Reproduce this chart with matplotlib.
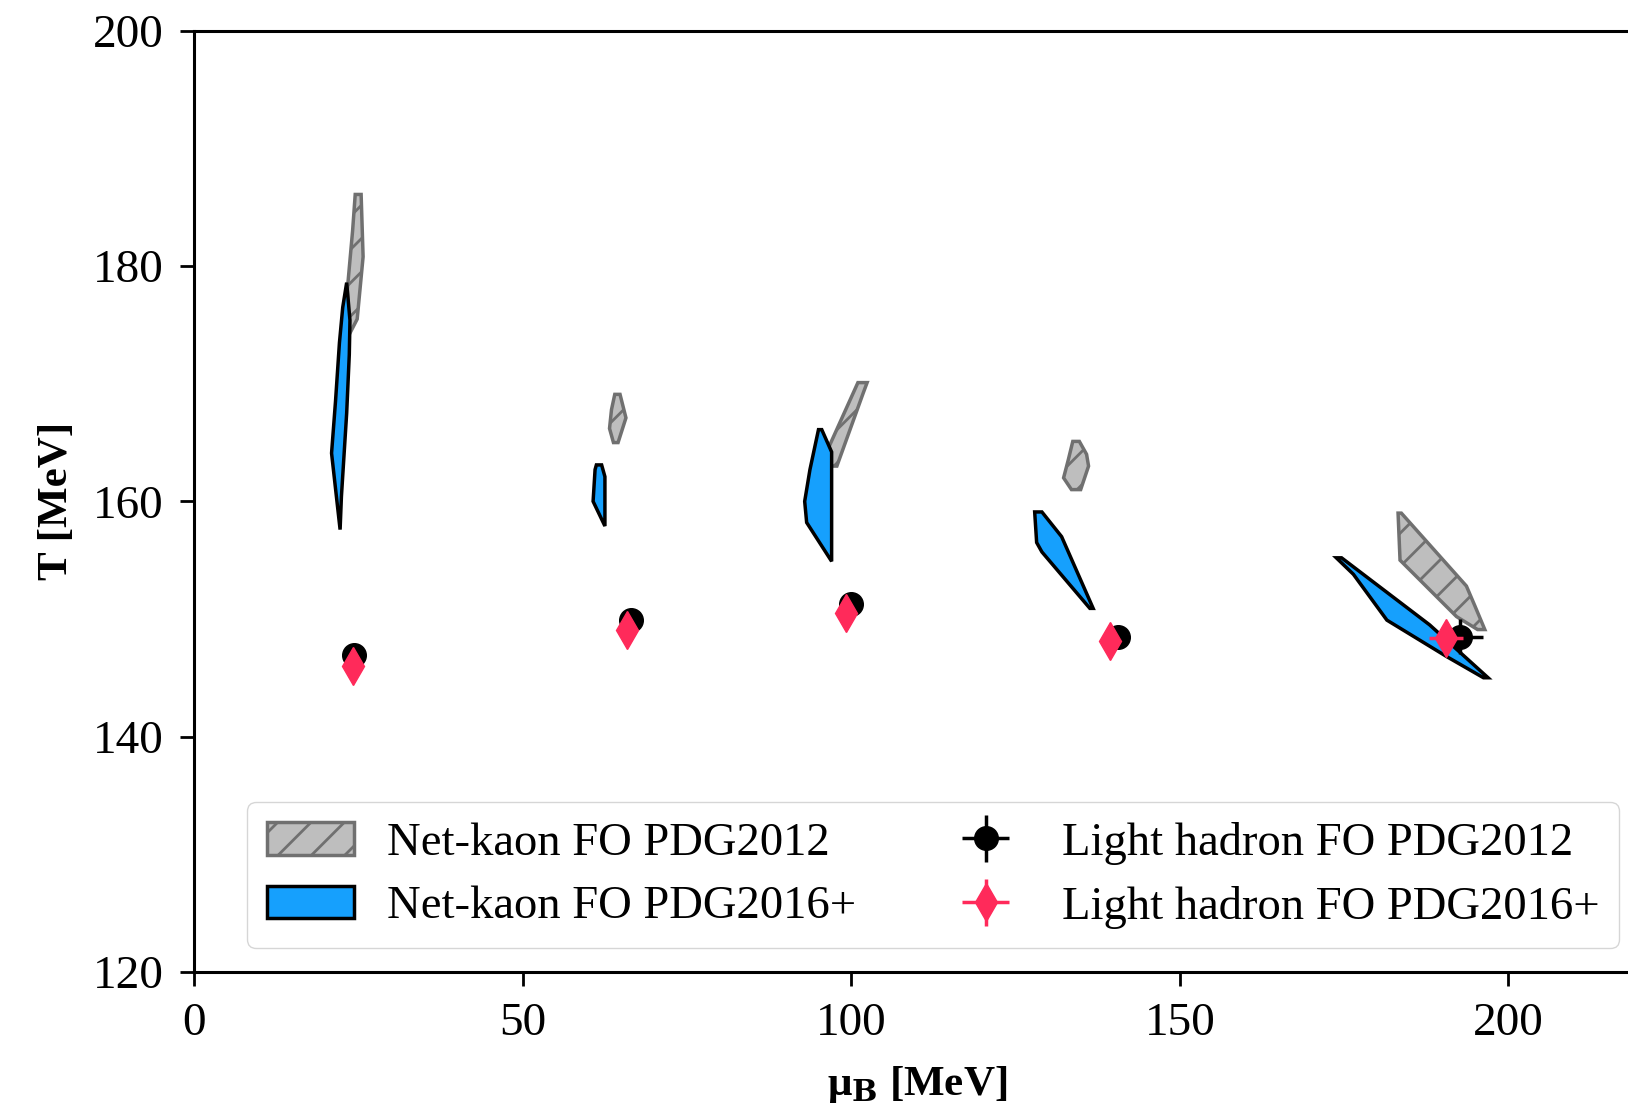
import matplotlib
matplotlib.use('Agg')
import matplotlib.pyplot as plt
from matplotlib.patches import Polygon, Patch

plt.rcParams['font.family'] = ['Liberation Serif', 'DejaVu Serif']
plt.rcParams['mathtext.fontset'] = 'dejavuserif'
plt.rcParams['hatch.linewidth'] = 2.0

# net-kaon freeze-out contours (mu_B, T) in MeV
nk2012 = [
    [(24.5, 186.1), (25.4, 186.1), (25.7, 180.8), (24.8, 175.5), (23.6, 174.2), (23.3, 178.0), (24.1, 183.0)],
    [(64.0, 169.1), (64.8, 169.1), (65.7, 167.1), (64.5, 165.0), (63.8, 165.0), (63.2, 166.2), (63.5, 167.8)],
    [(101.0, 170.1), (102.4, 170.1), (101.8, 169.2), (97.8, 163.0), (96.8, 163.0), (96.4, 164.4)],
    [(133.7, 165.1), (134.7, 165.1), (135.8, 164.0), (136.1, 163.0), (134.9, 161.0), (133.5, 161.0), (132.3, 162.0), (133.0, 163.5)],
    [(183.2, 159.0), (183.7, 159.0), (193.6, 152.8), (194.9, 151.1), (196.4, 149.1), (195.3, 149.1), (192.1, 150.2), (183.5, 155.0)],
]
nk2016 = [
    [(23.2, 178.6), (23.7, 175.4), (23.6, 172.5), (23.2, 167.5), (22.4, 160.4), (22.2, 157.6),
     (20.9, 164.1), (21.5, 168.5), (22.1, 173.5), (22.6, 176.5)],
    [(61.2, 163.1), (62.0, 163.1), (62.5, 162.1), (62.5, 157.9), (60.7, 160.0), (61.0, 162.7)],
    [(95.0, 166.1), (95.5, 166.1), (97.0, 164.2), (97.0, 154.9), (93.2, 158.2), (92.9, 160.0), (93.7, 162.7)],
    [(127.9, 159.1), (129.0, 159.1), (132.0, 157.0), (136.8, 150.9), (136.3, 150.9), (129.0, 155.7), (128.2, 156.5)],
    [(173.8, 155.2), (174.6, 155.2), (188.0, 149.5), (196.9, 145.0), (196.2, 145.0), (190.6, 146.8), (181.5, 149.9), (176.4, 153.8)],
]

# light hadron freeze-out points
lh12_mu = [24.3, 66.4, 100.0, 140.6, 192.7]
lh12_T = [146.9, 149.9, 151.3, 148.5, 148.5]
lh12_muerr = [0.5, 0.5, 0.5, 0.5, 3.4]
lh12_Terr = [0.4, 0.4, 0.4, 0.4, 1.5]

lh16_mu = [24.2, 65.9, 99.2, 139.3, 190.5]
lh16_T = [146.0, 149.1, 150.5, 148.1, 148.4]
lh16_muerr = [0.5, 0.5, 0.5, 0.5, 2.6]
lh16_Terr = [0.4, 0.4, 0.4, 0.4, 1.2]

gray_face = '#bebebe'
gray_edge = '#707070'
blue = '#16a0fd'
red = '#ff2a5a'

fig = plt.figure(figsize=(16.28, 11.03), dpi=100)
ax = fig.add_axes([0.1193, 0.1190, 0.888, 0.8529])

for poly in nk2012:
    ax.add_patch(Polygon(poly, closed=True, facecolor=gray_face, edgecolor=gray_edge,
                         hatch='/', lw=2.5, zorder=2))
for poly in nk2016:
    ax.add_patch(Polygon(poly, closed=True, facecolor=blue, edgecolor='black',
                         lw=2.5, zorder=3))

e1 = ax.errorbar(lh12_mu, lh12_T, xerr=lh12_muerr, yerr=lh12_Terr, fmt='o', color='black',
                 ms=17, elinewidth=2.5, zorder=4)
e2 = ax.errorbar(lh16_mu, lh16_T, xerr=lh16_muerr, yerr=lh16_Terr, fmt='d', color=red,
                 ms=19.5, elinewidth=2.5, zorder=5)

ax.set_xlim(0, 220)
ax.set_ylim(120, 200)
ax.set_xticks([0, 50, 100, 150, 200])
ax.set_yticks([120, 140, 160, 180, 200])
ax.tick_params(labelsize=34, length=10, width=2, pad=12)
for s in ax.spines.values():
    s.set_linewidth(2.2)

ax.set_xlabel(r'μ$_\mathbf{B}$ [MeV]', fontsize=31, fontweight='bold', labelpad=14)
ax.set_ylabel('T [MeV]', fontsize=31, fontweight='bold', labelpad=12)

handles = [Patch(facecolor=gray_face, edgecolor=gray_edge, hatch='/', lw=2.5),
           Patch(facecolor=blue, edgecolor='black', lw=2.5),
           e1, e2]
labels = ['Net-kaon FO PDG2012', 'Net-kaon FO PDG2016+',
          'Light hadron FO PDG2012', 'Light hadron FO PDG2016+']
ax.legend(handles, labels, ncol=2, fontsize=33.6, loc='lower left',
          bbox_to_anchor=(0.0365, 0.025), borderaxespad=0, columnspacing=1.85,
          handlelength=1.87, handletextpad=0.7, labelspacing=0.45, borderpad=0.42)

fig.savefig('out.png', dpi=100)
